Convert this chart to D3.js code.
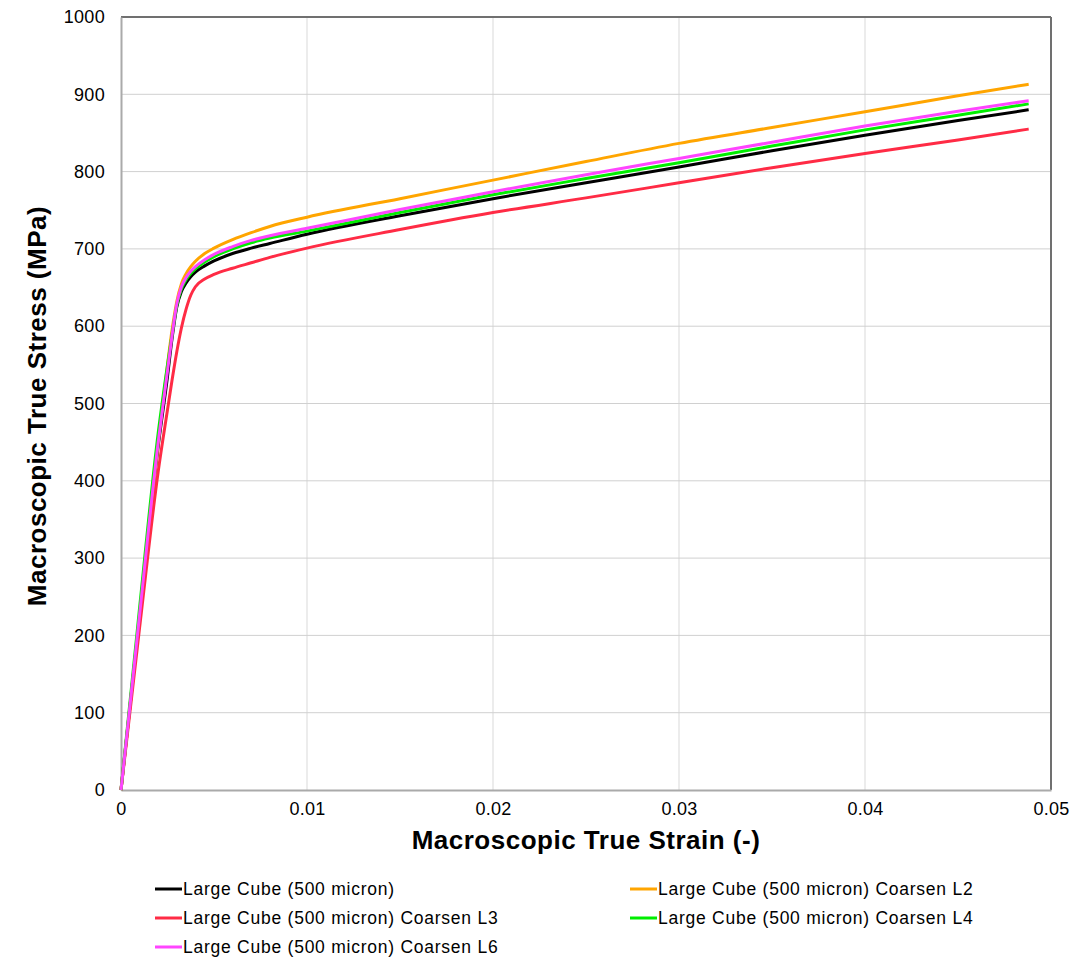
<!DOCTYPE html>
<html>
<head>
<meta charset="utf-8">
<script src="https://cdn.jsdelivr.net/npm/d3@7"></script>
<style>
  body { margin: 0; background: #fff; }
  svg text { font-family: "Liberation Sans", Arial, sans-serif; fill: #000; }
</style>
</head>
<body>
<div class="chart"></div>
<script>
// strain values shared by all runs
let strain = [0, 0.001, 0.002, 0.0025, 0.00275, 0.003, 0.00325, 0.0035, 0.00375, 0.004, 0.0045, 0.005, 0.006, 0.007, 0.008, 0.01, 0.015, 0.02, 0.025, 0.03, 0.035, 0.04, 0.045, 0.0488]

let stressBase = [0, 225, 445, 535, 585, 625, 645, 656, 664, 670, 678, 684.5, 694, 701, 707, 719, 743, 765, 785.5, 806, 827, 847, 866, 880]
let stressL2   = [0, 225, 450, 550, 596, 632, 655, 668, 677, 684, 694, 701, 712, 721, 729, 741, 765, 789, 813, 836.5, 857, 877.5, 898, 913]
let stressL3   = [0, 210, 412, 492, 531, 567, 598, 622, 640, 651, 661, 667, 675, 682, 689, 701, 725, 747, 766, 785.5, 805, 823.5, 841, 855]
let stressL4   = [0, 236, 462, 550, 590, 627, 648, 660, 668, 674, 683, 690, 700, 708, 714, 723, 747, 770, 791, 811.5, 833, 854, 873, 887.6]
let stressL6   = [0, 227, 450, 542, 589, 629, 651, 663, 671, 677, 686, 693, 703, 711, 717, 726.6, 751, 774, 796, 817, 838, 859, 878, 891.7]

let seriesNames = ['Large Cube (500 micron)', 'Large Cube (500 micron) Coarsen L2', 'Large Cube (500 micron) Coarsen L3', 'Large Cube (500 micron) Coarsen L4', 'Large Cube (500 micron) Coarsen L6']
let seriesColors = ['#000000', '#ffa500', '#ff2b45', '#00ee00', '#ff45ff']
let seriesValues = [stressBase, stressL2, stressL3, stressL4, stressL6]

let xTicks = [0, 0.01, 0.02, 0.03, 0.04, 0.05]
let yTicks = [0, 100, 200, 300, 400, 500, 600, 700, 800, 900, 1000]

const W = 1092, H = 962
const pL = 121, pR = 1051, pT = 17, pB = 790

const svg = d3.select('.chart').append('svg')
  .attr('width', W).attr('height', H)

const x = d3.scaleLinear().domain([0, 0.05]).range([pL, pR])
const y = d3.scaleLinear().domain([0, 1000]).range([pB, pT])

// grid
svg.append('g').selectAll('line')
  .data(xTicks.slice(1, -1)).enter().append('line')
  .attr('x1', d => x(d)).attr('x2', d => x(d))
  .attr('y1', pT).attr('y2', pB)
  .attr('stroke', '#d9d9d9').attr('stroke-width', 1)

svg.append('g').selectAll('line')
  .data(yTicks.slice(1, -1)).enter().append('line')
  .attr('x1', pL).attr('x2', pR)
  .attr('y1', d => y(d)).attr('y2', d => y(d))
  .attr('stroke', '#d0d0d0').attr('stroke-width', 1)

// frame
svg.append('line').attr('x1', pL).attr('x2', pR).attr('y1', pT).attr('y2', pT)
  .attr('stroke', '#707070').attr('stroke-width', 2)
svg.append('line').attr('x1', pR).attr('x2', pR).attr('y1', pT).attr('y2', pB)
  .attr('stroke', '#707070').attr('stroke-width', 2)

// axes
const xAxis = svg.append('g').attr('transform', `translate(0,${pB})`)
  .call(d3.axisBottom(x).tickValues(xTicks).tickSize(0).tickPadding(12).tickFormat(d => d === 0 ? '0' : d3.format('.2f')(d).replace(/0$/, '')))
xAxis.select('.domain').attr('stroke', '#aaaaaa').attr('stroke-width', 2)
xAxis.selectAll('text').style('font-size', '18px').style('letter-spacing', '0.3px')

const yAxis = svg.append('g').attr('transform', `translate(${pL},0)`)
  .call(d3.axisLeft(y).tickValues(yTicks).tickSize(0).tickPadding(16).tickFormat(d3.format('d')))
yAxis.select('.domain').attr('stroke', '#aaaaaa').attr('stroke-width', 2)
yAxis.selectAll('text').style('font-size', '18px').style('letter-spacing', '0.3px')

// lines
const line = d3.line()
  .x((d, i) => x(strain[i]))
  .y(d => y(d))
  .curve(d3.curveMonotoneX)

seriesValues.forEach((vals, k) => {
  svg.append('path')
    .datum(vals)
    .attr('d', line)
    .attr('fill', 'none')
    .attr('stroke', seriesColors[k])
    .attr('stroke-width', 3)
    .attr('stroke-linejoin', 'round')
})

// axis titles
svg.append('text')
  .attr('x', 586).attr('y', 849)
  .attr('text-anchor', 'middle')
  .style('font-size', '26px').style('font-weight', 'bold').style('letter-spacing', '0.5px')
  .text('Macroscopic True Strain (-)')

svg.append('text')
  .attr('transform', `translate(46,406) rotate(-90)`)
  .attr('text-anchor', 'middle')
  .style('font-size', '26px').style('font-weight', 'bold').style('letter-spacing', '0.5px')
  .text('Macroscopic True Stress (MPa)')

// legend
const legPos = [[155, 889], [630, 889], [155, 918], [630, 918], [155, 947]]
const leg = svg.append('g').selectAll('g')
  .data(seriesNames).enter().append('g')
  .attr('transform', (d, i) => `translate(${legPos[i][0]},${legPos[i][1]})`)

leg.append('line')
  .attr('x1', 0).attr('x2', 27).attr('y1', 0).attr('y2', 0)
  .attr('stroke', (d, i) => seriesColors[i]).attr('stroke-width', 3)

leg.append('text')
  .attr('x', 28).attr('y', 6)
  .style('font-size', '17.5px').style('letter-spacing', '0.75px')
  .text(d => d)
</script>
</body>
</html>
